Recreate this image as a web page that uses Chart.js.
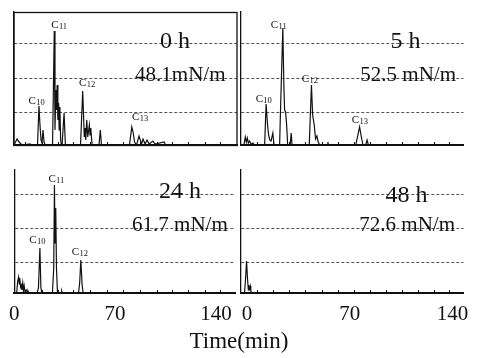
<!DOCTYPE html>
<html><head><meta charset="utf-8">
<script src="https://cdn.jsdelivr.net/npm/chart.js@4/dist/chart.umd.min.js"></script>
<style>
html,body{margin:0;padding:0;background:#fff;}
#wrap{position:relative;width:496px;height:358px;overflow:hidden;background:#fff;}
canvas{position:absolute;left:0;top:0;}
#xt{position:absolute;left:0;width:478px;top:329px;text-align:center;font:23px/23px "Liberation Serif",serif;color:#111;}
</style></head><body>
<div id="wrap">
<canvas id="c0" width="496" height="358"></canvas>
<canvas id="c1" width="496" height="358"></canvas>
<canvas id="c2" width="496" height="358"></canvas>
<canvas id="c3" width="496" height="358"></canvas>
<div id="xt">Time(min)</div>
</div>
<script>
// ---- data (time in min, relative intensity) ----
const t0h = [0,2.1,3.5,4.9,6,11.1,12,16.3,17.3,18.0,18.7,19.4,20.1,20.8,21.5,26.7,27.9,28.4,29.0,29.5,29.9,30.4,30.9,31.3,31.8,32.3,32.8,33.3,34.7,35.6,46.1,47.6,48.7,49.2,49.7,50.4,51.1,52.2,52.7,53.2,54.1,58.9,59.8,60.6,80.0,81.6,82.5,83.5,84.9,86.6,88.4,89.4,90.8,92.2,93.6,96.3,97.7,104.0,105.0,154.5];
const v0h = [0,6,3,1,0,1,0,0,39,20,5,2,15,3,0,0,114,15,55,35,60,25,42,15,38,5,0,0,32,0,0,54,8,17,5,25,8,20,10,17,0,0,15,0,0,18,13,3,0,9,1,6,1,5,1,4,1,3,0,0];

const t5h = [-4.1,-2.1,-1.2,-0.5,0.2,0.9,1.7,2.7,4.1,4.8,12.0,13.0,14.0,14.7,15.5,16.4,17.6,18.4,22.2,23.2,24.4,25.1,25.6,26.3,27.0,27.7,29.4,30.1,30.7,42.4,43.9,44.7,45.8,46.7,47.6,48.5,49.5,54.6,55.1,55.5,74.1,76.7,77.9,79.0,80.9,81.8,82.7,147.5];
const v5h = [0,0,8,3,7,2,4,1,2,0,0,41,20,10,5,4,12,0,0,55,117,60,35,33,20,0,0,12,0,0,60,30,20,6,9,3,0,0,3,0,0,18,8,0,0,5,0,0];

const t24h = [0,1.7,2.4,3.0,3.5,3.8,4.4,4.9,5.3,5.9,6.4,6.9,7.5,8.3,9.0,9.5,10.1,15.9,16.8,17.8,18.5,19.2,26.5,27.4,27.9,28.3,28.8,29.3,30.0,32.6,32.9,33.3,44.6,45.4,46.2,47.1,47.8,153];
const v24h = [0,0,12,16,9,15,6,8,3,10,2,7,1,3,1,2,0,0,5,45,5,0,0,25,108,50,85,25,0,0,2,0,0,10,33,8,0,0];

const t48h = [-4.1,-1.7,-1.2,-0.3,0.3,0.9,1.2,1.7,2.2,2.6,3.2,147.5];
const v48h = [0,0,10,32,15,3,8,4,7,2,0,0];

const xTickLabels = [0, 70, 140];
const minorLeft = [7.6,19.2,30.7,41.1,52.7,64.2,75.8,87.3,98.9,109.3,120.8,132.4,142.8];
const minorRight = [7.0,17.9,28.9,39.8,51.0,61.9,72.6,83.5,94.5,105.4,116.3,127.3,137.5];
const yGridTop = [32.7, 66.7, 101.7];
const yGridBottom = [30.4, 65, 99];

const SERIF = '"Liberation Serif", "Times New Roman", serif';

const panels = [
  {id:'c0', t:t0h, v:v0h, xmin:0, xmax:154.5, ymax:133, grid:yGridTop, minor:minorLeft, labels:false, box:true, axisH:0,
   pad:{left:14,right:259,top:12,bottom:213},
   peaks:[{n:'10',t:15.6,v:41},{n:'11',t:31.2,v:117},{n:'12',t:50.6,v:59},{n:'13',t:87.3,v:25}],
   notes:[{s:'0 h',t:101.2,v:97,size:24},{s:'48.1mN/m',t:83.9,v:64,size:21}]},
  {id:'c1', t:t5h, v:v5h, xmin:-4.1, xmax:147.5, ymax:133, grid:yGridTop, minor:minorRight, labels:false, box:false, axisH:0,
   pad:{left:241,right:32.5,top:12,bottom:213},
   peaks:[{n:'10',t:11.3,v:43.5},{n:'11',t:21.5,v:117},{n:'12',t:42.7,v:63},{n:'13',t:76.8,v:22}],
   notes:[{s:'5 h',t:97.7,v:97.5,size:24},{s:'52.5 mN/m',t:77.2,v:64,size:21}]},
  {id:'c2', t:t24h, v:v24h, xmin:0, xmax:153.2, ymax:123, grid:yGridBottom, minor:minorLeft, labels:true, box:false, axisH:65,
   pad:{left:14,right:261,top:170,bottom:0},
   peaks:[{n:'10',t:15.9,v:50},{n:'11',t:29.1,v:111},{n:'12',t:45.4,v:38}],
   notes:[{s:'24 h',t:100.5,v:94.7,size:24},{s:'61.7 mN/m',t:81.8,v:61.7,size:21}]},
  {id:'c3', t:t48h, v:v48h, xmin:-4.1, xmax:147.5, ymax:123, grid:yGridBottom, minor:minorRight, labels:true, box:false, axisH:65,
   pad:{left:241,right:32.5,top:170,bottom:0},
   peaks:[],
   notes:[{s:'48 h',t:94.3,v:91.2,size:24},{s:'72.6 mN/m',t:76.5,v:62.2,size:21}]}
];

function makeAnn(p){
  return {
    id:'ann_'+p.id,
    afterDraw(chart){
      const {ctx, chartArea:a, scales:{x,y}} = chart;
      ctx.save();
      ctx.strokeStyle = '#111';
      ctx.lineWidth = 1;
      p.minor.forEach(m => {
        const px = Math.round(x.getPixelForValue(m)) + 0.5;
        ctx.beginPath(); ctx.moveTo(px, a.bottom); ctx.lineTo(px, a.bottom - 3); ctx.stroke();
      });
      if (p.box) {
        ctx.lineWidth = 1.3;
        ctx.strokeRect(a.left, a.top + 0.5, a.right - a.left, a.bottom - a.top);
      }
      ctx.fillStyle = '#111';
      ctx.textBaseline = 'alphabetic';
      ctx.textAlign = 'left';
      p.peaks.forEach(k => {
        const px = x.getPixelForValue(k.t), py = y.getPixelForValue(k.v);
        ctx.font = '11px ' + SERIF;
        const wC = ctx.measureText('C').width;
        ctx.font = '8.5px ' + SERIF;
        const wN = ctx.measureText(k.n).width;
        const left = px - (wC + wN) / 2;
        ctx.font = '11px ' + SERIF;
        ctx.fillText('C', left, py);
        ctx.font = '8.5px ' + SERIF;
        ctx.fillText(k.n, left + wC + 0.3, py + 1);
      });
      p.notes.forEach(n => {
        ctx.font = n.size + 'px ' + SERIF;
        ctx.fillText(n.s, x.getPixelForValue(n.t), y.getPixelForValue(n.v));
      });
      ctx.restore();
    }
  };
}

panels.forEach(p => {
  new Chart(document.getElementById(p.id), {
    type:'line',
    data:{datasets:[{
      data: p.t.map((t,i) => ({x:t, y:p.v[i]})),
      borderColor:'#111', borderWidth:1.2, pointRadius:0, tension:0, fill:false
    }]},
    options:{
      responsive:false, animation:false, events:[],
      layout:{padding:p.pad},
      plugins:{legend:{display:false}, tooltip:{enabled:false}},
      scales:{
        x:{type:'linear', min:p.xmin, max:p.xmax,
           afterFit:s => { s.height = p.axisH; },
           afterBuildTicks:s => { s.ticks = xTickLabels.map(v => ({value:v})); },
           grid:{display:false, drawTicks:false},
           border:{display:true, color:'#111', width:2},
           ticks:{display:p.labels, autoSkip:false, maxRotation:0, padding:9, color:'#111',
                  font:{family:SERIF, size:21}}},
        y:{type:'linear', min:0, max:p.ymax,
           afterFit:s => { s.width = 0; },
           afterBuildTicks:s => { s.ticks = p.grid.map(v => ({value:v})); },
           grid:{display:true, drawTicks:false, color:'#555', lineWidth:1},
           border:{display:true, color:'#111', width:1.3, dash:[3,2]},
           ticks:{display:false}}
      }
    },
    plugins:[makeAnn(p)]
  });
});
</script>
</body></html>
